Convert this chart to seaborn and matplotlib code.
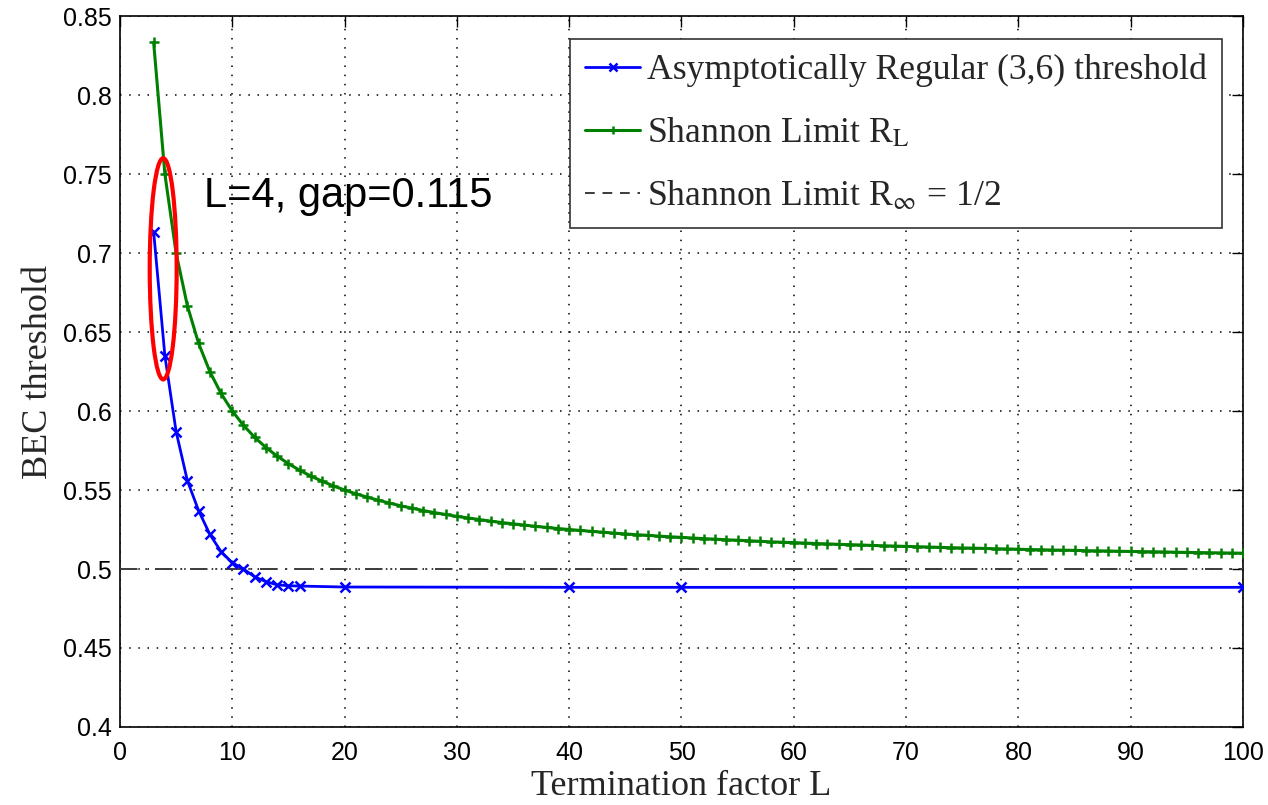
import numpy as np
import pandas as pd
import matplotlib
matplotlib.use("Agg")
import matplotlib.pyplot as plt
from matplotlib.patches import Ellipse
from matplotlib.lines import Line2D
import seaborn as sns

# ---------------- data ----------------
L_threshold = [3, 4, 5, 6, 7, 8, 9, 10, 11, 12, 13, 14, 15, 16, 20, 40, 50, 100]
threshold = [0.7135, 0.635, 0.587, 0.556, 0.537, 0.522, 0.511, 0.504, 0.500,
             0.495, 0.492, 0.490, 0.4894, 0.4892, 0.4886, 0.4884, 0.4884, 0.4884]

L_shannon = list(range(3, 101))
shannon = [0.8333, 0.75, 0.7, 0.6667, 0.6429, 0.625, 0.6111, 0.6, 0.5909, 0.5833,
           0.5769, 0.5714, 0.5667, 0.5625, 0.5588, 0.5556, 0.5526, 0.55, 0.5476, 0.5455,
           0.5435, 0.5417, 0.54, 0.5385, 0.537, 0.5357, 0.5345, 0.5333, 0.5323, 0.5313,
           0.5303, 0.5294, 0.5286, 0.5278, 0.527, 0.5263, 0.5256, 0.525, 0.5244, 0.5238,
           0.5233, 0.5227, 0.5222, 0.5217, 0.5213, 0.5208, 0.5204, 0.52, 0.5196, 0.5192,
           0.5189, 0.5185, 0.5182, 0.5179, 0.5175, 0.5172, 0.5169, 0.5167, 0.5164, 0.5161,
           0.5159, 0.5156, 0.5154, 0.5152, 0.5149, 0.5147, 0.5145, 0.5143, 0.5141, 0.5139,
           0.5137, 0.5135, 0.5133, 0.5132, 0.513, 0.5128, 0.5127, 0.5125, 0.5123, 0.5122,
           0.512, 0.5119, 0.5118, 0.5116, 0.5115, 0.5114, 0.5112, 0.5111, 0.511, 0.5109,
           0.5108, 0.5106, 0.5105, 0.5104, 0.5103, 0.5102, 0.5101, 0.51]

shannon_inf = 0.5

series_labels = ["Asymptotically Regular (3,6) threshold",
                 r"Shannon Limit R$_{\mathrm{L}}$",
                 r"Shannon Limit R$_{\infty}$ = 1/2"]
annotation_text = "L=4, gap=0.115"
x_label = "Termination factor L"
y_label = "BEC threshold"
x_ticks = [0, 10, 20, 30, 40, 50, 60, 70, 80, 90, 100]
y_ticks = [0.4, 0.45, 0.5, 0.55, 0.6, 0.65, 0.7, 0.75, 0.8, 0.85]

# ---------------- style ----------------
sns.set_theme(style="white")
plt.rcParams["font.family"] = ["Liberation Sans", "DejaVu Sans"]
plt.rcParams["mathtext.fontset"] = "stix"

fig = plt.figure(figsize=(12.68, 8.05), dpi=100)
ax = fig.add_axes([0.0946, 0.0969, 0.8857, 0.8832])

df_thr = pd.DataFrame({"L": L_threshold, "v": threshold})
df_sh = pd.DataFrame({"L": L_shannon, "v": shannon})

blue = (0, 0, 1)
green = (0, 0.5, 0)
sns.lineplot(data=df_thr, x="L", y="v", ax=ax, color=blue, linewidth=2,
             marker="x", markersize=7, markeredgewidth=1.8, markeredgecolor=blue,
             zorder=4)
sns.lineplot(data=df_sh, x="L", y="v", ax=ax, color=green, linewidth=2.2,
             marker="+", markersize=7, markeredgewidth=1.8, markeredgecolor=green,
             zorder=4)
ax.axhline(shannon_inf, color="#3c3c3c", linewidth=1.4, linestyle=(0, (9, 4, 1, 4)),
           zorder=3)

ax.add_patch(Ellipse((3.85, 0.690), 2.4, 0.140, fill=False, edgecolor="red",
                     linewidth=3, zorder=5))
ax.text(7.5, 0.736, annotation_text, fontsize=30, family=["Liberation Sans", "DejaVu Sans"],
        va="center", ha="left", color="black", zorder=6)

ax.set_xlim(0, 100)
ax.set_ylim(0.4, 0.85)
ax.set_xticks(x_ticks)
ax.set_yticks(y_ticks)
ax.set_xticklabels([str(t) for t in x_ticks])
ax.set_yticklabels([f"{t:g}" for t in y_ticks])
ax.tick_params(direction="in", length=8, width=1, top=True, right=True,
               colors="black", labelsize=18)
ax.tick_params(axis="x", pad=10)
ax.tick_params(axis="y", pad=6)
ax.grid(True, color="black", linestyle=(0, (1, 5)), linewidth=1.1)
for s in ax.spines.values():
    s.set_color("black")
    s.set_linewidth(1.2)

ax.set_xlabel(x_label, fontsize=26, family=["Liberation Serif", "DejaVu Serif"], labelpad=4)
ax.set_ylabel(y_label, fontsize=26, family=["Liberation Serif", "DejaVu Serif"], labelpad=6)

handles = [
    Line2D([], [], color=blue, linewidth=2, marker="x", markersize=6, markeredgewidth=1.8),
    Line2D([], [], color=green, linewidth=2.2, marker="+", markersize=6, markeredgewidth=1.8),
    Line2D([], [], color="#3c3c3c", linewidth=1.4, linestyle=(0, (5, 4))),
]
leg = ax.legend(handles, series_labels, loc="upper right", bbox_to_anchor=(0.981, 0.968),
                prop={"family": ["Liberation Serif", "DejaVu Serif"], "size": 25.7},
                frameon=True, fancybox=False, edgecolor="#333333", framealpha=1,
                handlelength=1.55, handletextpad=0.18, labelspacing=0.82,
                borderpad=0.42, borderaxespad=0, numpoints=1)
leg.get_frame().set_linewidth(1.2)

fig.savefig("out.png", dpi=100)
